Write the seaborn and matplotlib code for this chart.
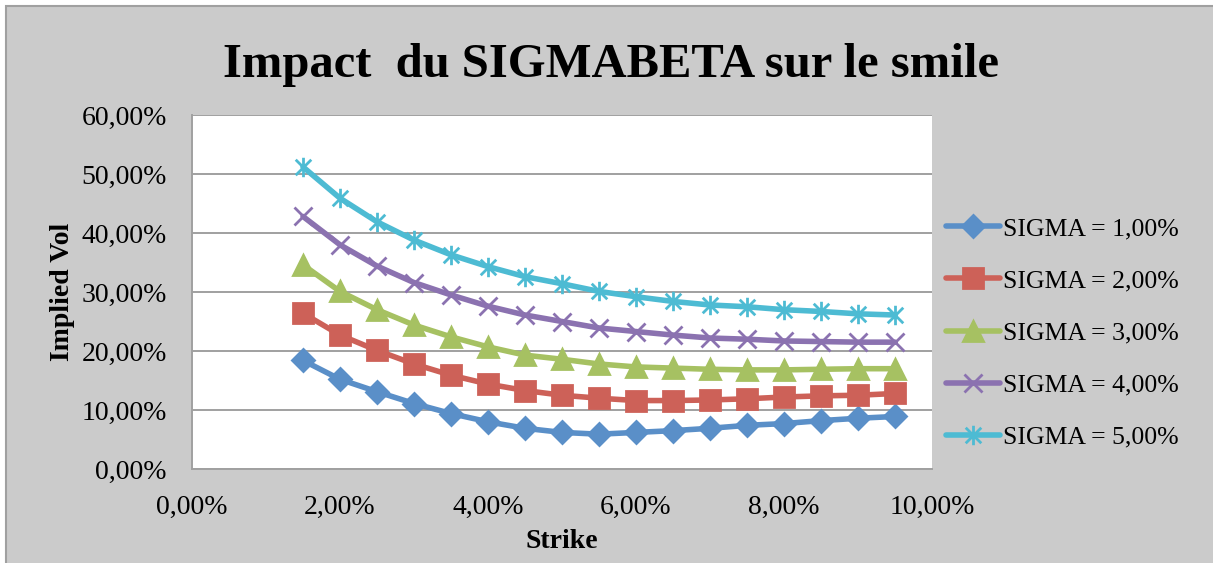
import pandas as pd
import numpy as np
import matplotlib
matplotlib.use('Agg')
import matplotlib.pyplot as plt
import seaborn as sns
from matplotlib.path import Path
from matplotlib.patches import Rectangle
from matplotlib.ticker import FuncFormatter, MultipleLocator

# Données (en %)
strike = [1.5, 2.0, 2.5, 3.0, 3.5, 4.0, 4.5, 5.0, 5.5, 6.0, 6.5, 7.0, 7.5, 8.0, 8.5, 9.0, 9.5]
sigma_1 = [18.4, 15.2, 13.1, 11.1, 9.4, 8.0, 6.9, 6.2, 5.9, 6.2, 6.5, 6.9, 7.4, 7.7, 8.2, 8.6, 8.9]
sigma_2 = [26.4, 22.7, 20.1, 17.8, 15.9, 14.4, 13.3, 12.5, 12.0, 11.6, 11.6, 11.7, 11.9, 12.2, 12.4, 12.5, 12.8]
sigma_3 = [34.6, 30.1, 27.0, 24.4, 22.4, 20.7, 19.3, 18.6, 17.8, 17.3, 17.1, 16.9, 16.8, 16.8, 16.9, 17.0, 17.0]
sigma_4 = [42.8, 38.0, 34.4, 31.6, 29.5, 27.6, 26.1, 25.0, 23.9, 23.3, 22.7, 22.2, 22.0, 21.7, 21.6, 21.5, 21.5]
sigma_5 = [51.2, 45.9, 41.9, 38.8, 36.3, 34.3, 32.6, 31.4, 30.1, 29.2, 28.4, 27.8, 27.5, 27.0, 26.7, 26.3, 26.1]
labels = ['SIGMA = 1,00%', 'SIGMA = 2,00%', 'SIGMA = 3,00%', 'SIGMA = 4,00%', 'SIGMA = 5,00%']

series = [sigma_1, sigma_2, sigma_3, sigma_4, sigma_5]
df = pd.DataFrame({
    'Strike': strike * len(series),
    'Vol': sum(series, []),
    'Serie': np.repeat(labels, len(strike)),
})

sns.set_style('white')
plt.rcParams['font.family'] = ['Liberation Serif', 'DejaVu Serif']
plt.rcParams['text.color'] = 'black'
plt.rcParams['axes.labelcolor'] = 'black'

# marqueur étoile style Excel (X + trait vertical)
star = Path([(0, -1), (0, 1), (-0.8, -0.8), (0.8, 0.8), (-0.8, 0.8), (0.8, -0.8)],
            [Path.MOVETO, Path.LINETO] * 3)

couleurs = ['#5A8FC8', '#CD6158', '#A6C162', '#8B72B0', '#4DBBD3']
marqueurs = ['D', 's', '^', 'x', star]
tailles = [11, 14, 14, 13, 14]

fig = plt.figure(figsize=(12.13, 5.63), dpi=100, facecolor='white')
fig.patches.append(Rectangle((6 / 1213, -0.01), 1.0, 1 - 6 / 563 + 0.01,
                             transform=fig.transFigure, facecolor='#CBCBCB',
                             edgecolor='#A0A0A0', linewidth=1.5, zorder=-10))

ax = fig.add_axes([192 / 1213, 94 / 563, 740 / 1213, 354 / 563])
ax.set_facecolor('white')

for lab, col, mk, ms in zip(labels, couleurs, marqueurs, tailles):
    sns.lineplot(data=df[df['Serie'] == lab], x='Strike', y='Vol', ax=ax,
                 color=col, marker=mk, markersize=ms, markeredgecolor=col,
                 markeredgewidth=2, linewidth=4, label=lab)

ax.set_xlim(0, 10)
ax.set_ylim(0, 60)
ax.xaxis.set_major_locator(MultipleLocator(2))
ax.yaxis.set_major_locator(MultipleLocator(10))
fmt = FuncFormatter(lambda v, p: f'{v:.2f}%'.replace('.', ','))
ax.xaxis.set_major_formatter(fmt)
ax.yaxis.set_major_formatter(fmt)
ax.tick_params(axis='both', length=0, labelsize=20, colors='black')
ax.tick_params(axis='y', pad=18)
ax.tick_params(axis='x', pad=19)
ax.grid(axis='y', color='#A0A0A0', linewidth=1.4)
ax.set_axisbelow(True)
for s in ['top', 'right']:
    ax.spines[s].set_visible(False)
for s in ['left', 'bottom']:
    ax.spines[s].set_color('#A0A0A0')
    ax.spines[s].set_linewidth(1.4)

ax.set_xlabel('Strike', fontsize=20, fontweight='bold', labelpad=6)
ax.set_ylabel('Implied Vol', fontsize=20, fontweight='bold', labelpad=5)

fig.text(0.504, 1 - 65 / 563, 'Impact  du SIGMABETA sur le smile', fontsize=35,
         fontweight='bold', ha='center', va='center')

ax.legend(loc='center left', bbox_to_anchor=(946 / 1213, 1 - 333 / 563),
          bbox_transform=fig.transFigure, frameon=False, fontsize=18.5,
          handlelength=2.1, handletextpad=0.1, labelspacing=1.13,
          borderpad=0, borderaxespad=0)

fig.savefig('out.png', dpi=100, facecolor=fig.get_facecolor())
